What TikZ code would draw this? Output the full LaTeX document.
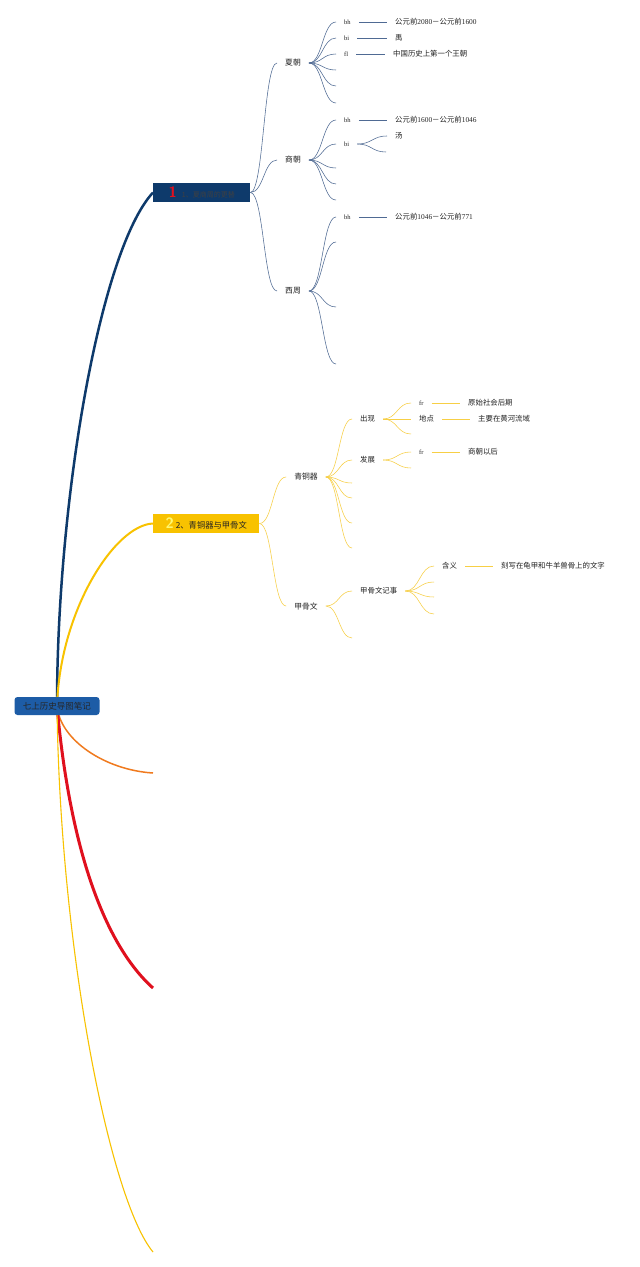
\documentclass[tikz,border=0pt]{standalone}
\usepackage{fontspec}
\setmainfont{Liberation Serif}
\newfontfamily\cjk{Noto Sans CJK SC}
\usetikzlibrary{calc,backgrounds}
\definecolor{navy}{HTML}{0E3A6B}
\definecolor{rootblue}{HTML}{1D5CA6}
\definecolor{myyel}{HTML}{F8C200}
\definecolor{lightyel}{HTML}{F7CF45}
\definecolor{myorange}{HTML}{F07A1E}
\definecolor{myred}{HTML}{E0101E}
\definecolor{subblue}{HTML}{4F6A93}
\definecolor{txt}{HTML}{222222}
\tikzset{
  sconn/.style={to path={let \p1=(\tikztostart), \p2=(\tikztotarget) in
     .. controls ({(\x1+\x2)/2},\y1) and ({(\x1+\x2)/2},\y2) .. (\tikztotarget)}},
  lvtwo/.style={font=\fontsize{7.8}{9}\cjk, text=txt, inner ysep=1pt, inner xsep=8pt},
  lab/.style={font=\fontsize{7.4}{9}\cjk, text=txt, inner ysep=1pt, inner xsep=8pt, anchor=west},
  tag/.style={font=\fontsize{6.5}{8}\selectfont, text=txt, inner ysep=1pt, inner xsep=8pt, anchor=west},
  bsub/.style={draw=subblue, line width=0.55pt},
  ysub/.style={draw=lightyel, line width=0.55pt},
}
\begin{document}
\begin{tikzpicture}[x=1pt,y=-1pt]
\useasboundingbox (0,0) rectangle (640,1267);

% root and main branches
\node[fill=rootblue, rounded corners=3pt, minimum width=85pt, minimum height=18pt, inner sep=0pt,
      font=\fontsize{8.5}{10}\cjk, text=black!85] (root) at (57,706) {七上历史导图笔记};
\node[fill=navy, minimum width=97pt, minimum height=19pt, inner sep=0pt, anchor=west] (b1) at (153,192.5)
  {\fontsize{15}{15}\selectfont\textcolor{myred}{\sffamily\bfseries 1}\hspace{5pt}{\fontsize{7}{8}\cjk\textcolor{black!75}{1、夏商周的更替}}};
\node[fill=myyel, minimum width=106pt, minimum height=19pt, inner sep=0pt, anchor=west] (b2) at (153,523.5)
  {\fontsize{15}{15}\selectfont\textcolor{yellow!55!white}{\sffamily\bfseries 2}\hspace{2pt}{\fontsize{8.3}{9}\cjk\textcolor{txt}{2、青铜器与甲骨文}}};
\coordinate (o3) at (153,773);
\coordinate (o4) at (153,988);
\coordinate (o5) at (153,1252);

\begin{scope}[on background layer]
\fill[white] (0,0) rectangle (640,1267);
\draw[navy, line width=2.5pt] (root.center) .. controls (57,500) and (100,250) .. (b1.west);
\draw[myyel, line width=2pt] (root.center) .. controls (60,610) and (115,525) .. (b2.west);
\draw[myorange, line width=1.5pt] (root.center) .. controls (60,740) and (105,770) .. (o3);
\draw[myred, line width=3pt] (root.center) .. controls (70,850) and (105,945) .. (o4);
\draw[myyel, line width=1.1pt] (root.center) .. controls (60,950) and (110,1200) .. (o5);
\end{scope}

% ---------- branch 1 ----------
\node[lvtwo] (xia) at (293,63) {夏朝};
\node[lvtwo] (shang) at (293,160) {商朝};
\node[lvtwo] (xizhou) at (293,291) {西周};
\foreach \nm in {xia,shang,xizhou} \draw[bsub, sconn] (b1.east) to (\nm.west);

% xia
\node[tag] (xbh) at (336,22) {bh};
\node[tag] (xbi) at (336,38) {bi};
\node[tag] (xfl) at (336,54) {fl};
\coordinate (xe1) at (336,70);
\coordinate (xe2) at (336,86);
\coordinate (xe3) at (336,103);
\foreach \nm in {xbh,xbi,xfl} \draw[bsub, sconn] (xia.east) to (\nm.west);
\foreach \nm in {xe1,xe2,xe3} \draw[bsub, sconn] (xia.east) to (\nm);
\node[lab, font=\fontsize{7.4}{9}\selectfont] (xbht) at (387,22) {{\cjk 公元前}2080{\cjk －公元前}1600};
\node[lab] (xbit) at (387,38) {禹};
\node[lab] (xflt) at (385,54) {中国历史上第一个王朝};
\draw[bsub] (xbh.east) -- (xbht.west);
\draw[bsub] (xbi.east) -- (xbit.west);
\draw[bsub] (xfl.east) -- (xflt.west);

% shang
\node[tag] (sbh) at (336,120) {bh};
\node[tag] (sbi) at (336,144) {bi};
\coordinate (se1) at (336,168);
\coordinate (se2) at (336,184);
\coordinate (se3) at (336,200);
\foreach \nm in {sbh,sbi} \draw[bsub, sconn] (shang.east) to (\nm.west);
\foreach \nm in {se1,se2,se3} \draw[bsub, sconn] (shang.east) to (\nm);
\node[lab, font=\fontsize{7.4}{9}\selectfont] (sbht) at (387,120) {{\cjk 公元前}1600{\cjk －公元前}1046};
\draw[bsub] (sbh.east) -- (sbht.west);
\node[lab] (tang) at (387,136) {汤};
\coordinate (sbe) at (386,152);
\draw[bsub, sconn] (sbi.east) to (tang.west);
\draw[bsub, sconn] (sbi.east) to (sbe);

% xizhou
\node[tag] (zbh) at (336,217) {bh};
\coordinate (ze1) at (336,242);
\coordinate (ze2) at (336,307);
\coordinate (ze3) at (336,364);
\draw[bsub, sconn] (xizhou.east) to (zbh.west);
\foreach \nm in {ze1,ze2,ze3} \draw[bsub, sconn] (xizhou.east) to (\nm);
\node[lab, font=\fontsize{7.4}{9}\selectfont] (zbht) at (387,217) {{\cjk 公元前}1046{\cjk －公元前}771};
\draw[bsub] (zbh.east) -- (zbht.west);

% ---------- branch 2 ----------
\node[lvtwo] (qtq) at (306,477) {青铜器};
\node[lvtwo] (jgw) at (306,606) {甲骨文};
\foreach \nm in {qtq,jgw} \draw[ysub, sconn] (b2.east) to (\nm.west);

\node[lab] (cx) at (352,419) {出现};
\node[lab] (fz) at (352,460) {发展};
\coordinate (qe1) at (352,483);
\coordinate (qe2) at (352,498);
\coordinate (qe3) at (352,523);
\coordinate (qe4) at (352,548);
\foreach \nm in {cx,fz} \draw[ysub, sconn] (qtq.east) to (\nm.west);
\foreach \nm in {qe1,qe2,qe3,qe4} \draw[ysub, sconn] (qtq.east) to (\nm);

\node[tag] (cfr) at (411,403) {fr};
\node[lab] (dd) at (411,419) {地点};
\coordinate (ce1) at (411,434);
\draw[ysub, sconn] (cx.east) to (cfr.west);
\draw[ysub, sconn] (cx.east) to (dd.west);
\draw[ysub, sconn] (cx.east) to (ce1);
\node[lab] (ys) at (460,403) {原始社会后期};
\node[lab] (hh) at (470,419) {主要在黄河流域};
\draw[ysub] (cfr.east) -- (ys.west);
\draw[ysub] (dd.east) -- (hh.west);

\node[tag] (ffr) at (411,452) {fr};
\coordinate (fe1) at (411,468);
\draw[ysub, sconn] (fz.east) to (ffr.west);
\draw[ysub, sconn] (fz.east) to (fe1);
\node[lab] (scyh) at (460,452) {商朝以后};
\draw[ysub] (ffr.east) -- (scyh.west);

\node[lab] (jj) at (352,591) {甲骨文记事};
\coordinate (je1) at (352,638);
\draw[ysub, sconn] (jgw.east) to (jj.west);
\draw[ysub, sconn] (jgw.east) to (je1);

\node[lab] (hy) at (434,566) {含义};
\coordinate (he1) at (434,582);
\coordinate (he2) at (434,597);
\coordinate (he3) at (434,614);
\draw[ysub, sconn] (jj.east) to (hy.west);
\foreach \nm in {he1,he2,he3} \draw[ysub, sconn] (jj.east) to (\nm);
\node[lab] (kx) at (493,566) {刻写在龟甲和牛羊兽骨上的文字};
\draw[ysub] (hy.east) -- (kx.west);
\end{tikzpicture}
\end{document}
